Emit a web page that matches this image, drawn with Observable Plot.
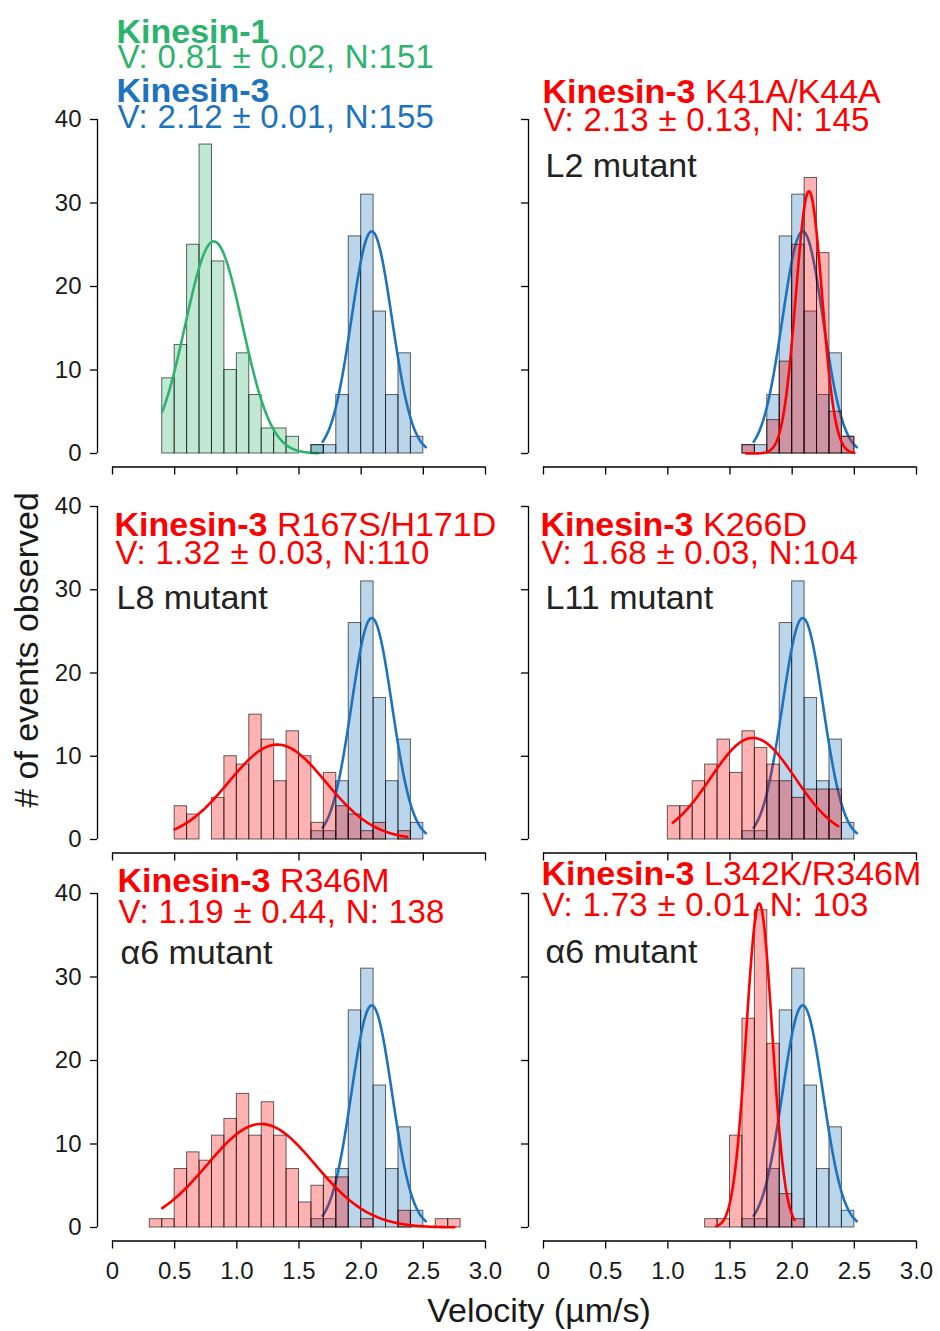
<!DOCTYPE html>
<html>
<head>
<meta charset="utf-8">
<script src="https://cdn.jsdelivr.net/npm/d3@7"></script>
<script src="https://cdn.jsdelivr.net/npm/@observablehq/plot@0.6"></script>
<style>
  body { margin: 0; background: #fff; }
  #chart { position: relative; width: 940px; height: 1331px; font-family: "Liberation Sans", Arial, sans-serif; }
  .cell { position: absolute; }
  .cell svg { overflow: visible; }
  #titles { position: absolute; left: 0; top: 0; pointer-events: none; }
</style>
</head>
<body>
<div id="chart"></div>
<script>
// ---------------- DATA ----------------
const binWidth = 0.1;
const xTicks = [0, 0.5, 1.0, 1.5, 2.0, 2.5, 3.0];
const xTickLabels = ["0", "0.5", "1.0", "1.5", "2.0", "2.5", "3.0"];
const yTicks = [0, 10, 20, 30, 40];
const xTitle = "Velocity (µm/s)";
const yTitle = "# of events observed";

// Kinesin-1 (wild type) histogram: first bin start and counts per 0.1 µm/s bin
const kin1Start = 0.4;
const kin1Counts = [9, 13, 25, 37, 23, 10, 12, 7, 3, 3, 2, 0, 1];
const kin1Name = "Kinesin-1";
const kin1Stats = "V: 0.81 ± 0.02, N:151";
// Kinesin-3 (wild type) histogram
const kin3Start = 1.6;
const kin3Counts = [1, 1, 7, 26, 31, 17, 7, 12, 2, 0, 0, 0, 0, 0];
const kin3Name = "Kinesin-3";
const kin3Stats = "V: 2.12 ± 0.01, N:155";

// Kinesin-3 mutants
const mutantNames = ["K41A/K44A", "R167S/H171D", "K266D", "R346M", "L342K/R346M"];
const mutantStats = ["V: 2.13 ± 0.13, N: 145", "V: 1.32 ± 0.03, N:110", "V: 1.68 ± 0.03, N:104", "V: 1.19 ± 0.44, N: 138", "V: 1.73 ± 0.01, N: 103"];
const mutantRegions = ["L2 mutant", "L8 mutant", "L11 mutant", "α6 mutant", "α6 mutant"];
const mutantStarts = [1.6, 0.5, 1.0, 0.3, 1.3];
const mutantCounts = [
  [1, 0, 4, 11, 25, 33, 24, 5, 2],
  [4, 3, 0, 5, 10, 9, 15, 12, 7, 13, 10, 2, 8, 4, 3, 1, 2, 0, 1],
  [4, 4, 7, 9, 12, 8, 13, 11, 9, 7, 5, 6, 6, 6],
  [1, 1, 7, 9, 8, 11, 13, 16, 11, 15, 11, 7, 3, 5, 6, 6, 0, 1, 0, 0, 2, 0, 0, 1, 1],
  [1, 1, 11, 25, 38, 22, 4, 1]
];

// Gaussian fits: mean, sd, amplitude, drawn range
const kin1Fit = {mean: 0.815, sd: 0.23, amp: 25.4, from: 0.40, to: 1.655};
const kin3Fit = {mean: 2.085, sd: 0.163, amp: 26.6, from: 1.69, to: 2.52};
const mutantFitMean = [2.135, 1.325, 1.684, 1.196, 1.735];
const mutantFitSd   = [0.105, 0.39, 0.34, 0.435, 0.104];
const mutantFitAmp  = [31.4, 11.4, 12.2, 12.4, 38.8];
const mutantFitFrom = [1.63, 0.50, 1.04, 0.40, 1.39];
const mutantFitTo   = [2.50, 2.37, 2.37, 2.75, 2.02];

// ---------------- STYLE / LAYOUT ----------------
const GREEN = "#2eb36e", BLUE = "#1e73be", RED = "#ff0000", DARK = "#222222";
const FONT = "'Liberation Sans', Arial, sans-serif";
const cols = [
  {left: 0, width: 500, marginLeft: 112, marginRight: 15},
  {left: 500, width: 440, marginLeft: 43, marginRight: 24}
];
const rows = [
  {top: 0, height: 480, marginTop: 119, marginBottom: 27},
  {top: 480, height: 386, marginTop: 26, marginBottom: 27},
  {top: 866, height: 465, marginTop: 27, marginBottom: 104}
];
// text positions per panel: [dx of lines, baselines relative to top of y range]
const textLayout = [
  {dx: [4, 5, 4, 5], dy: [-77, -51.5, -18, 8.5]},
  {dx: [-1, 0, 2], dy: [-16.5, 11.7, 57.3]},
  {dx: [2, 3, 4], dy: [29, 57.3, 102.3]},
  {dx: [-3, -2, 2], dy: [29, 57.3, 102.3]},
  {dx: [5, 6, 8], dy: [-1.6, 29, 70]},
  {dx: [-2, -1, 2], dy: [-8.3, 22.4, 69.4]}
];
const titleSize = 34, statsSize = 33, statsSpacing = 0.3;

const ctx = document.createElement("canvas").getContext("2d");
function textWidth(str, weight, size) {
  ctx.font = `${weight} ${size}px 'Liberation Sans', Arial, sans-serif`;
  return ctx.measureText(str).width;
}

function bins(start, counts) {
  return counts.map((c, i) => {
    const x1 = Math.round((start + i * binWidth) * 100) / 100;
    return {x1, x2: Math.round((x1 + binWidth) * 100) / 100, count: c};
  });
}
function fitCurve(f) {
  const n = 200;
  return d3.range(n + 1).map(i => {
    const x = f.from + (f.to - f.from) * i / n;
    return {x, y: f.amp * Math.exp(-((x - f.mean) ** 2) / (2 * f.sd * f.sd))};
  });
}

const barStyle = {stroke: "black", strokeOpacity: 0.6, strokeWidth: 1, fillOpacity: 0.3};

function panel(idx, row, col, layers, texts) {
  const R = rows[row], C = cols[col];
  const showX = row === 2, showY = col === 0;
  const marks = [];
  for (const L of layers) {
    marks.push(Plot.rectY(L.bins, {x1: "x1", x2: "x2", y: "count", fill: L.color, ...barStyle}));
    marks.push(Plot.line(L.curve, {x: "x", y: "y", stroke: L.color, strokeWidth: 2.6}));
  }
  // axes (offset spines)
  marks.push(Plot.ruleX([xTicks[0]], {y1: yTicks[0], y2: yTicks[yTicks.length - 1], dx: -15, stroke: "black", strokeWidth: 1.3}));
  marks.push(Plot.ruleY([yTicks[0]], {x1: xTicks[0], x2: xTicks[xTicks.length - 1], dy: 13.5, stroke: "black", strokeWidth: 1.3}));
  marks.push(Plot.axisY({ticks: yTicks, tickSize: 7, tickPadding: 9, dx: -15, fontSize: 24, strokeWidth: 1.3,
    stroke: "black", fill: showY ? "#1a1a1a" : "none", label: null, tickFormat: d => String(d)}));
  marks.push(Plot.axisX({ticks: xTicks, tickSize: 8, tickPadding: 13, dy: 13.5, fontSize: 24, strokeWidth: 1.3,
    stroke: "black", fill: showX ? "#1a1a1a" : "none", label: null, tickFormat: d => xTickLabels[xTicks.indexOf(d)]}));
  // texts
  const lay = textLayout[idx];
  texts.forEach((t, i) => {
    const size = t.stats ? statsSize : titleSize;
    const base = {frameAnchor: "top-left", textAnchor: "start", lineAnchor: "bottom", fontSize: size, text: d => d, dy: lay.dy[i]};
    marks.push(Plot.text([t.main], {...base, dx: lay.dx[i], fill: t.color, fontWeight: t.weight}));
    if (t.rest) {
      const w = textWidth(t.main + " ", t.weight, size);
      marks.push(Plot.text([t.rest], {...base, dx: lay.dx[i] + w, fill: t.color}));
    }
  });
  const chart = Plot.plot({
    width: C.width, height: R.height,
    marginLeft: C.marginLeft, marginRight: C.marginRight, marginTop: R.marginTop, marginBottom: R.marginBottom,
    x: {domain: [xTicks[0], xTicks[xTicks.length - 1]]},
    y: {domain: [yTicks[0], yTicks[yTicks.length - 1]]},
    style: {fontFamily: FONT, background: "transparent", overflow: "visible", color: "#1a1a1a"},
    marks
  });
  d3.select(chart).selectAll("text").filter(function () { return this.textContent.startsWith("V:"); })
    .attr("letter-spacing", statsSpacing + "px");
  const div = document.createElement("div");
  div.className = "cell";
  div.style.left = C.left + "px";
  div.style.top = R.top + "px";
  div.appendChild(chart);
  document.getElementById("chart").appendChild(div);
}

const kin3Layer = {bins: bins(kin3Start, kin3Counts), curve: fitCurve(kin3Fit), color: BLUE};

// Panel 0: Kinesin-1 vs Kinesin-3
panel(0, 0, 0, [
  {bins: bins(kin1Start, kin1Counts), curve: fitCurve(kin1Fit), color: GREEN},
  kin3Layer
], [
  {main: kin1Name, weight: "bold", color: GREEN},
  {main: kin1Stats, weight: "normal", color: GREEN, stats: true},
  {main: kin3Name, weight: "bold", color: BLUE},
  {main: kin3Stats, weight: "normal", color: BLUE, stats: true}
]);

const positions = [[0, 1], [1, 0], [1, 1], [2, 0], [2, 1]];
mutantNames.forEach((name, m) => {
  const fit = {mean: mutantFitMean[m], sd: mutantFitSd[m], amp: mutantFitAmp[m], from: mutantFitFrom[m], to: mutantFitTo[m]};
  panel(m + 1, positions[m][0], positions[m][1], [
    kin3Layer,
    {bins: bins(mutantStarts[m], mutantCounts[m]), curve: fitCurve(fit), color: RED}
  ], [
    {main: kin3Name, weight: "bold", rest: name, color: RED},
    {main: mutantStats[m], weight: "normal", color: RED, stats: true},
    {main: mutantRegions[m], weight: "normal", color: DARK}
  ]);
});

// Axis titles
const svg = d3.select("#chart").append("svg").attr("id", "titles").attr("width", 940).attr("height", 1331)
  .style("font-family", FONT);
svg.append("text").attr("x", 539).attr("y", 1322).attr("text-anchor", "middle").attr("font-size", 34).attr("fill", "#1a1a1a").text(xTitle);
svg.append("text").attr("transform", "translate(38,650) rotate(-90)").attr("text-anchor", "middle").attr("font-size", 34).attr("fill", "#1a1a1a").text(yTitle);
</script>
</body>
</html>
